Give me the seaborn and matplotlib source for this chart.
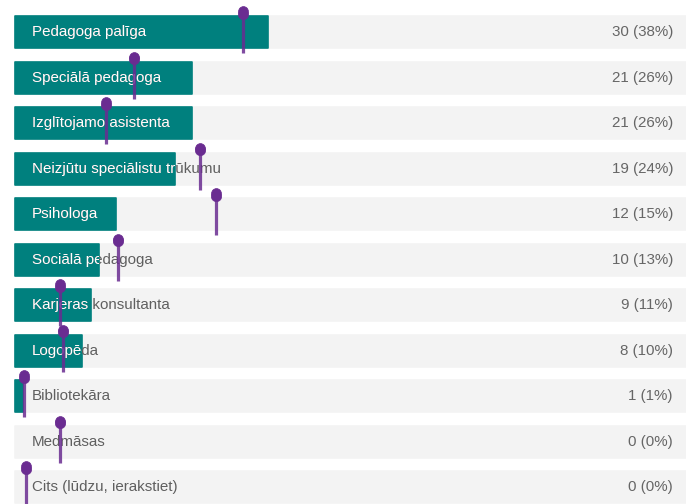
import numpy as np
import matplotlib
matplotlib.use("Agg")
import matplotlib.pyplot as plt
import matplotlib.transforms as mtransforms
import seaborn as sns

# survey answers (count of respondents)
categories = ["Pedagoga palīga", "Speciālā pedagoga", "Izglītojamo asistenta",
              "Neizjūtu speciālistu trūkumu", "Psihologa", "Sociālā pedagoga",
              "Karjeras konsultanta", "Logopēda", "Bibliotekāra", "Medmāsas",
              "Cits (lūdzu, ierakstiet)"]
counts = [30, 21, 21, 19, 12, 10, 9, 8, 1, 0, 0]
total_respondents = 80
# purple pin markers
pin_values = [27.0, 14.15, 10.8, 21.95, 23.9, 12.25, 5.35, 5.7, 1.05, 5.35, 1.3]

teal = "#00807e"
bg_gray = "#f3f3f3"
purple = "#6a2c91"
text_gray = "#5f5f5f"

sns.set_theme(style="white")
plt.rcParams["font.family"] = ["Liberation Sans", "DejaVu Sans"]

fig = plt.figure(figsize=(6.86, 5.04), dpi=100)
ax = fig.add_axes([0, 0, 1, 1])

totals = [total_respondents] * len(categories)
sns.barplot(x=totals, y=categories, orient="h", color=bg_gray, width=0.70,
            saturation=1, ax=ax)
sns.barplot(x=counts, y=categories, orient="h", color=teal, width=0.70,
            saturation=1, ax=ax)

for p in ax.patches:
    p.set_edgecolor(p.get_facecolor())
    p.set_linewidth(1.2 if p.get_width() > 0 else 0)
    p.set_joinstyle("round")

teal_bars = ax.patches[len(categories):]

px = 8.43  # pixels per respondent
ax.set_xlim(-15 / px, (686 - 15) / px)
ax.set_ylim(10.37, -0.71)
ax.axis("off")

trans = mtransforms.blended_transform_factory(ax.transAxes, ax.transData)
for i, (cat, c) in enumerate(zip(categories, counts)):
    ax.text(32 / 686, i, cat, transform=trans, va="center", ha="left",
            fontsize=10.9, color=text_gray)
    bar = teal_bars[i]
    if bar.get_x() + bar.get_width() > 17 / px:
        # white part of the label, only where it lies on the teal bar
        white = ax.text(32 / 686, i, cat, transform=trans, va="center",
                        ha="left", fontsize=10.9, color="white")
        clip = mtransforms.TransformedBbox(bar.get_bbox(), ax.transData)
        white.set_clip_box(clip)
        white.set_clip_on(True)
    pct = int(c * 100 / total_respondents + 0.5)
    ax.text(673 / 686, i, f"{c} ({pct}%)", transform=trans, va="center",
            ha="right", fontsize=10.9, color="#666666")

rows = np.arange(len(categories))
ax.vlines(pin_values, rows - 0.40, rows + 0.46, color=purple, linewidth=2.3,
          alpha=0.85, zorder=5)
sns.scatterplot(x=pin_values, y=rows - 0.41, color=purple, s=55, marker="o",
                edgecolor=purple, linewidth=0.5, zorder=6, ax=ax, legend=False)
sns.scatterplot(x=pin_values, y=rows - 0.46, color=purple, s=50, marker="o",
                edgecolor=purple, linewidth=0.5, zorder=6, ax=ax, legend=False)

fig.savefig("out.png", dpi=100)
